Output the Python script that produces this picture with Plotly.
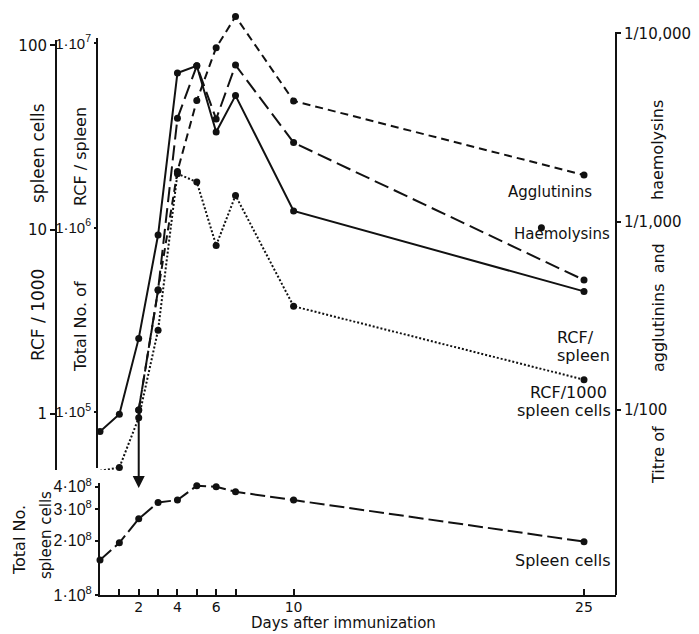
import math
import plotly.graph_objects as go

W, H = 699, 634

# ---------------- data ----------------
days = [0, 1, 2, 3, 4, 5, 6, 7, 10, 25]
spleen_cells = [1.565e8, 1.95e8, 2.65e8, 3.27e8, 3.37e8, 4.05e8, 4.0e8, 3.75e8, 3.37e8, 1.98e8]
rcf_spleen = [7.8e4, 9.7e4, 2.5e5, 9.1e5, 6.9e6, 7.55e6, 3.3e6, 5.2e6, 1.23e6, 4.5e5]
rcf_per_1000 = [0.49, 0.51, 0.95, 2.84, 20.1, 18.1, 8.2, 15.3, 3.83, 1.53]

aggl_days = [2, 3, 4, 5, 6, 7, 10, 25]
agglutinins = [100, 434, 1850, 4400, 8400, 12300, 4380, 1770]
haem_days = [2, 3, 4, 5, 6, 7, 10, 25]
haemolysins = [100, 434, 3540, 6730, 3510, 6790, 2630, 490]
extra_day = [22.8]
extra_titre = [930]

arrow_day = 2
arrow_from, arrow_to = 100, 38.5

x_tickvals = [1, 2, 3, 4, 5, 6, 7, 10, 25]
x_ticktext = ["", "2", "", "4", "", "6", "", "10", "25"]
spleen_ticks = [1e8, 2e8, 3e8, 4e8]
spleen_ticktext = ["1·10<sup>8</sup>", "2·10<sup>8</sup>", "3·10<sup>8</sup>", "4·10<sup>8</sup>"]
rcf_ticks = [1e5, 1e6, 1e7]
rcf_ticktext = ["1·10<sup>5</sup>", "1·10<sup>6</sup>", "1·10<sup>7</sup>"]
per1000_ticks = [1, 10, 100]
per1000_ticktext = ["1", "10", "100"]
titre_ticks = [100, 1000, 10000]
titre_ticktext = ["1/100", "1/1,000", "1/10,000"]

# ---------------- layout helpers ----------------
def px(x):
    return x / W

def py(y):
    return 1 - y / H

FONT = "DejaVu Sans"
NARROW = "Liberation Sans"
BLACK = "#111111"

x0_px, x1_px = 100, 616
day_px = 19.36
x_range = [0, (x1_px - x0_px) / day_px]

# bottom (spleen cells) axis
b_dec = 179.9
b_lo = 8
b_hi = 8 + (595 - 483) / b_dec
# top RCF axes
t_dec = 184.2
t_y5 = 411.7
t_lo = 5 - (468 - t_y5) / t_dec
t_hi = 5 + (t_y5 - 38) / t_dec
# titre axis (visible part) and hidden drawing axis with extra head-room
r_dec = 188.3
r_y2 = 410
r_lo = 2 - (595 - r_y2) / r_dec
r_hi = 2 + (r_y2 - 32) / r_dec
r_hi_draw = 2 + (r_y2 - 4) / r_dec

fig = go.Figure()

mk = dict(color=BLACK, size=7)

fig.add_trace(go.Scatter(x=days, y=spleen_cells, xaxis="x", yaxis="y", mode="lines+markers",
                         line=dict(color=BLACK, width=2, dash="15px,5px"), marker=mk, cliponaxis=False))
fig.add_trace(go.Scatter(x=days, y=rcf_spleen, xaxis="x", yaxis="y2", mode="lines+markers",
                         line=dict(color=BLACK, width=2), marker=mk, cliponaxis=False))
fig.add_trace(go.Scatter(x=days, y=rcf_per_1000, xaxis="x", yaxis="y3", mode="lines+markers",
                         line=dict(color=BLACK, width=2, dash="2px,2px"), marker=mk, cliponaxis=False))
fig.add_trace(go.Scatter(x=aggl_days, y=agglutinins, xaxis="x", yaxis="y5", mode="lines+markers",
                         line=dict(color=BLACK, width=2, dash="8px,5px"), marker=mk, cliponaxis=False))
fig.add_trace(go.Scatter(x=haem_days, y=haemolysins, xaxis="x", yaxis="y5", mode="lines+markers",
                         line=dict(color=BLACK, width=2, dash="15px,6px"), marker=mk, cliponaxis=False))
fig.add_trace(go.Scatter(x=extra_day, y=extra_titre, xaxis="x", yaxis="y5", mode="markers",
                         marker=mk, cliponaxis=False))
# empty trace so that the visible titre axis is drawn
fig.add_trace(go.Scatter(x=[None], y=[None], xaxis="x", yaxis="y4", mode="markers"))

tickfont = dict(family=FONT, size=15, color=BLACK)
narrowfont = dict(family=NARROW, size=15, color=BLACK)
common = dict(showgrid=False, zeroline=False, showline=True, linecolor=BLACK, linewidth=2,
              tickcolor=BLACK, tickwidth=2)

fig.update_layout(
    width=W, height=H, margin=dict(l=0, r=0, t=0, b=0, autoexpand=False),
    paper_bgcolor="white", plot_bgcolor="rgba(0,0,0,0)", showlegend=False,
    xaxis=dict(domain=[px(x0_px), px(x1_px)], range=x_range, anchor="y",
               tickvals=x_tickvals, ticktext=x_ticktext, ticks="inside", ticklen=6,
               ticklabelstandoff=-2,
               tickfont=dict(family=FONT, size=14, color=BLACK), **common),
    yaxis=dict(domain=[py(595), py(483)], type="log", range=[b_lo, b_hi], anchor="x",
               tickvals=spleen_ticks, ticktext=spleen_ticktext, ticks="outside", ticklen=3,
               tickfont=dict(family=NARROW, size=16, color=BLACK), **common),
    yaxis2=dict(domain=[py(468), py(38)], type="log", range=[t_lo, t_hi], anchor="free",
                position=px(97), tickvals=rcf_ticks, ticktext=rcf_ticktext, ticks="outside", ticklen=2,
                tickfont=narrowfont, **common),
    yaxis3=dict(domain=[py(470), py(40)], type="log", range=[t_lo - 5, t_hi - 5], anchor="free",
                position=px(56), tickvals=per1000_ticks, ticktext=per1000_ticktext, ticks="outside",
                ticklen=5, tickfont=tickfont, **common),
    yaxis4=dict(domain=[py(595), py(32)], type="log", range=[r_lo, r_hi], anchor="free", side="right",
                position=px(616), tickvals=titre_ticks, ticktext=titre_ticktext, ticks="outside",
                ticklen=4, tickfont=tickfont, **common),
    yaxis5=dict(domain=[py(595), py(4)], type="log", range=[r_lo, r_hi_draw], anchor="free",
                position=px(616), visible=False, showgrid=False, zeroline=False),
)

ann = []
# arrow at day 2 (titres below detection)
ann.append(dict(x=arrow_day, y=math.log10(arrow_to), ax=arrow_day, ay=math.log10(arrow_from),
                xref="x", yref="y4", axref="x", ayref="y4", showarrow=True, arrowhead=2,
                arrowsize=1.2, arrowwidth=2, arrowcolor=BLACK, text=""))

def label(text, x, y, xanchor="center", yanchor="middle", angle=0, size=16):
    ann.append(dict(text=text, x=px(x), y=py(y), xref="paper", yref="paper", showarrow=False,
                    xanchor=xanchor, yanchor=yanchor, textangle=angle,
                    font=dict(family=FONT, size=size, color=BLACK)))

# left titles
label("spleen cells", 38, 153, angle=-90, size=17)
label("RCF / 1000", 38, 315, angle=-90, size=17)
label("RCF / spleen", 80, 157, angle=-90, size=16)
label("Total No. of", 80, 327, angle=-90, size=16)
label("Total No.", 19, 540, angle=-90, size=16)
label("spleen cells", 46, 535, angle=-90, size=15)
# right title
label("haemolysins", 658, 150, angle=-90)
label("agglutinins  and", 658, 308, angle=-90)
label("Titre of", 658, 455, angle=-90)
# series labels
label("Agglutinins", 594, 192, xanchor="right", size=15)
label("Haemolysins", 612, 234, xanchor="right", size=15)
label("RCF/", 555, 337, xanchor="left", size=16)
label("spleen", 555, 355, xanchor="left", size=16)
label("RCF/1000", 609, 392, xanchor="right", size=16)
label("spleen cells", 613, 410, xanchor="right", size=16)
label("Spleen cells", 613, 560, xanchor="right", size=16)
# x title
label("Days after immunization", 343, 634, yanchor="bottom", size=15)

fig.update_layout(annotations=ann)

fig.write_html("out.html")
